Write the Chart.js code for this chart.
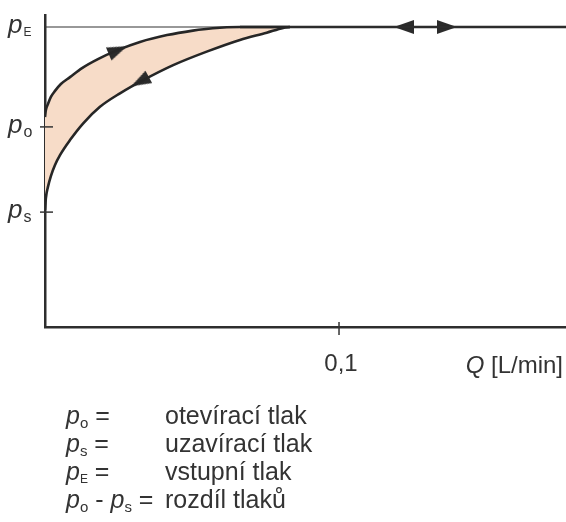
<!DOCTYPE html>
<html>
<head>
<meta charset="utf-8">
<script src="https://cdn.jsdelivr.net/npm/chart.js@4"></script>
<style>
  body { margin: 0; background: #fff; }
  #wrap { position: relative; width: 566px; height: 522px; }
  #legend {
    position: absolute; left: 66px; top: 401px;
    font: 25px "Liberation Sans", Arial, sans-serif; color: #333;
    border-collapse: collapse;
  }
  #legend td { padding: 0; height: 28px; line-height: 28px; white-space: nowrap; }
  #legend td.sym { width: 99px; }
  #legend sub { font-size: 15px; vertical-align: -4px; line-height: 0; }
  #legend sub.e { font-size: 12px; vertical-align: -3px; }
</style>
</head>
<body>
<div id="wrap">
  <canvas id="chart" width="566" height="522"></canvas>
  <table id="legend">
    <tr><td class="sym"><i>p</i><sub>o</sub> =</td><td>otevírací tlak</td></tr>
    <tr><td class="sym"><i>p</i><sub>s</sub> =</td><td>uzavírací tlak</td></tr>
    <tr><td class="sym"><i>p</i><sub class="e">E</sub> =</td><td>vstupní tlak</td></tr>
    <tr><td class="sym"><i>p</i><sub>o</sub> - <i>p</i><sub>s</sub> =</td><td>rozdíl tlaků</td></tr>
  </table>
</div>
<script>
// Q axis (L/min) and pressure axis (relative to inlet pressure pE = 1)
const qMax = 0.1772;
const pMax = 1.04;
const qTicks = [0.1];
const qTickLabels = ['0,1'];
const pLevels = [0.383, 0.667, 1.0];
const pSubs = ['s', 'o', 'E'];

// opening branch (pressure rising until the valve is fully open)
const openQ = [0, 0.0003, 0.0010, 0.0020, 0.0034, 0.0054, 0.0085, 0.0126, 0.0180, 0.0245, 0.0323, 0.0415, 0.0503, 0.0571, 0.0663, 0.0833];
const openP = [0.700, 0.723, 0.743, 0.767, 0.787, 0.810, 0.833, 0.863, 0.893, 0.922, 0.950, 0.973, 0.988, 0.996, 1.0, 1.0];

// closing branch (pressure falling back to the closing pressure)
const closeQ = [0, 0.0003, 0.0010, 0.0020, 0.0034, 0.0051, 0.0085, 0.0130, 0.0187, 0.0255, 0.0334, 0.0436, 0.0550, 0.0663, 0.0754, 0.0810, 0.0833];
const closeP = [0.390, 0.430, 0.467, 0.503, 0.540, 0.573, 0.623, 0.679, 0.734, 0.779, 0.823, 0.873, 0.918, 0.957, 0.981, 0.997, 1.0];

// flat part at the inlet pressure
const flatQ = [0.0663, qMax];
const flatP = [1.0, 1.0];

// direction arrows
const arrowQ = [0.0248, 0.0323, 0.1221, 0.1367];
const arrowP = [0.923, 0.818, 1.0, 1.0];
const arrowAngle = [-23, 152, 180, 0];

const toPoints = (xs, ys) => xs.map((x, i) => ({ x: x, y: ys[i] }));

// arrow head pointing right, rotated per point
const arrowHead = document.createElement('canvas');
arrowHead.width = 20;
arrowHead.height = 14;
const ah = arrowHead.getContext('2d');
ah.fillStyle = '#2b2b2b';
ah.beginPath();
ah.moveTo(0, 0);
ah.lineTo(20, 7);
ah.lineTo(0, 14);
ah.closePath();
ah.fill();

const FONT = '"Liberation Sans", Arial, sans-serif';
const INK = '#333';

function drawP(ctx, x, baseline, sub) {
  ctx.font = 'italic 26px ' + FONT;
  ctx.textAlign = 'left';
  ctx.fillText('p', x, baseline);
  const w = ctx.measureText('p').width;
  if (sub === 'E') {
    ctx.font = '12px ' + FONT;
    ctx.fillText(sub, x + w + 1, baseline + 3);
  } else {
    ctx.font = '16px ' + FONT;
    ctx.fillText(sub, x + w + 1, baseline + 4);
  }
}

const axisLabels = {
  id: 'axisLabels',
  afterDraw(chart) {
    const { ctx, chartArea } = chart;
    const xs = chart.scales.x;
    const ys = chart.scales.y;
    ctx.save();
    ctx.fillStyle = INK;
    ctx.strokeStyle = INK;
    ctx.lineWidth = 1.5;

    // pressure levels on the vertical axis
    pLevels.forEach((v, i) => {
      const py = ys.getPixelForValue(v);
      if (pSubs[i] !== 'E') {
        ctx.beginPath();
        ctx.moveTo(chartArea.left - 5, py);
        ctx.lineTo(chartArea.left + 8, py);
        ctx.stroke();
      }
      drawP(ctx, 8, py + 6, pSubs[i]);
    });

    // flow ticks on the horizontal axis
    qTicks.forEach((v, i) => {
      const px = xs.getPixelForValue(v);
      ctx.beginPath();
      ctx.moveTo(px, chartArea.bottom - 5);
      ctx.lineTo(px, chartArea.bottom + 8);
      ctx.stroke();
      ctx.font = '24px ' + FONT;
      ctx.textAlign = 'center';
      ctx.fillText(qTickLabels[i], px + 2, chartArea.bottom + 44);
    });

    // axis title
    ctx.textAlign = 'left';
    ctx.font = '24px ' + FONT;
    const unit = ' [L/min]';
    const uw = ctx.measureText(unit).width;
    const right = chartArea.right - 3;
    ctx.fillText(unit, right - uw, chartArea.bottom + 46);
    ctx.font = 'italic 24px ' + FONT;
    const qw = ctx.measureText('Q').width;
    ctx.fillText('Q', right - uw - qw, chartArea.bottom + 46);
    ctx.restore();
  }
};

const LINE = '#262626';

new Chart(document.getElementById('chart'), {
  type: 'line',
  data: {
    datasets: [
      {
        data: toPoints(openQ, openP),
        borderColor: LINE,
        borderWidth: 2.6,
        backgroundColor: '#f7dcc8',
        fill: '+1',
        cubicInterpolationMode: 'monotone',
        pointRadius: 0
      },
      {
        data: toPoints(closeQ, closeP),
        borderColor: LINE,
        borderWidth: 2.6,
        fill: false,
        cubicInterpolationMode: 'monotone',
        pointRadius: 0
      },
      {
        // thin reference line at pE
        data: toPoints([0, qMax], [1.0, 1.0]),
        borderColor: '#333',
        borderWidth: 1.2,
        fill: false,
        pointRadius: 0
      },
      {
        data: toPoints(flatQ, flatP),
        borderColor: LINE,
        borderWidth: 2.6,
        fill: false,
        pointRadius: 0
      },
      {
        data: toPoints(arrowQ, arrowP),
        showLine: false,
        fill: false,
        pointStyle: arrowHead,
        pointRadius: 8,
        pointRotation: arrowAngle
      }
    ]
  },
  options: {
    responsive: false,
    animation: false,
    events: [],
    layout: { autoPadding: false, padding: { left: 45, top: 15, right: 0, bottom: 195 } },
    plugins: {
      legend: { display: false },
      tooltip: { enabled: false },
      filler: { drawTime: 'beforeDatasetsDraw' }
    },
    scales: {
      x: {
        type: 'linear',
        min: 0,
        max: qMax,
        grid: { display: false, drawTicks: false },
        ticks: { display: false },
        border: { color: '#2e2e2e', width: 2.5 }
      },
      y: {
        type: 'linear',
        min: 0,
        max: pMax,
        grid: { display: false, drawTicks: false },
        ticks: { display: false },
        border: { color: '#2e2e2e', width: 2.5 }
      }
    }
  },
  plugins: [axisLabels]
});
</script>
</body>
</html>
